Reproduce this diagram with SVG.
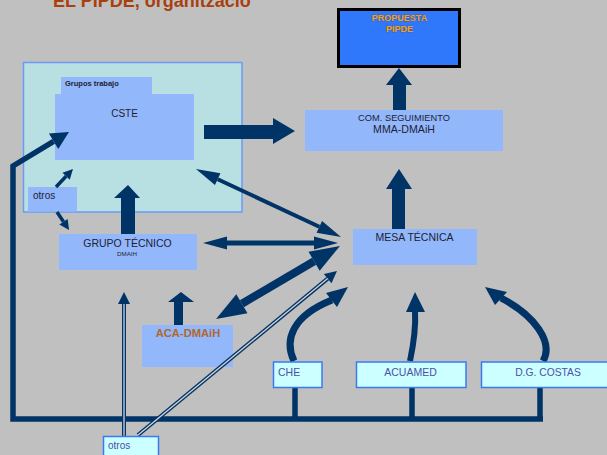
<svg xmlns="http://www.w3.org/2000/svg" width="607" height="455" viewBox="0 0 607 455">
<style>
.bg{fill:#c0c0c0}
.lb{fill:#93b7fb}
.bx{fill:#ccffff;stroke:#3a7af0;stroke-width:1.5}
.t{font-family:"Liberation Sans",Arial,sans-serif;fill:#1e2233}
.tb{font-family:"Liberation Sans",Arial,sans-serif;fill:#4d4fa8}
.ln{fill:none;stroke:#003366}
.dk{fill:#003366}
.dblo{fill:none;stroke:#003366;stroke-width:4}
.dbli{fill:none;stroke:#d4d4d4;stroke-width:1.3}
</style>
<defs>
<marker id="ma" markerUnits="userSpaceOnUse" markerWidth="24" markerHeight="13" refX="0" refY="6.5" orient="auto-start-reverse" overflow="visible"><path d="M0,0 L24,6.5 L0,13 z" fill="#003366"/></marker>
<marker id="mb" markerUnits="userSpaceOnUse" markerWidth="30" markerHeight="22" refX="0" refY="11" orient="auto-start-reverse" overflow="visible"><path d="M0,0 L30,11 L0,22 z" fill="#003366"/></marker>
<marker id="mc" markerUnits="userSpaceOnUse" markerWidth="10" markerHeight="10" refX="0" refY="5" orient="auto" overflow="visible"><path d="M0,0 L10,5 L0,10 z" fill="#003366"/></marker>
<marker id="md" markerUnits="userSpaceOnUse" markerWidth="12" markerHeight="12" refX="0" refY="6" orient="auto" overflow="visible"><path d="M0,0 L12,6 L0,12 z" fill="#003366"/></marker>
<marker id="me" markerUnits="userSpaceOnUse" markerWidth="18" markerHeight="18" refX="0" refY="9" orient="auto" overflow="visible"><path d="M0,0 L18,9 L0,18 z" fill="#003366"/></marker>
</defs>
<rect class="bg" x="0" y="0" width="607" height="455"/>
<text x="53" y="7" font-family="Liberation Sans,Arial,sans-serif" font-weight="bold" font-size="18" fill="#a8400e">EL PIPDE, organització</text>

<g id="propuesta">
<rect x="338.5" y="9.5" width="121" height="57" fill="#2f78fb" stroke="#000" stroke-width="3"/>
<text x="399.5" y="21" text-anchor="middle" font-family="Liberation Sans,Arial,sans-serif" font-weight="bold" font-size="9" fill="#f0a028" stroke="#6a4000" stroke-width="0.35" paint-order="stroke">PROPUESTA</text>
<text x="399.5" y="32" text-anchor="middle" font-family="Liberation Sans,Arial,sans-serif" font-weight="bold" font-size="9" fill="#f0a028" stroke="#6a4000" stroke-width="0.35" paint-order="stroke">PIPDE</text>
</g>

<g id="grupos">
<rect x="23.5" y="62.5" width="218.5" height="149.5" fill="#b8dfe2" stroke="#6b9af5" stroke-width="1.5"/>
</g>
<g id="grupos-trabajo">
<rect class="lb" x="61" y="77" width="91" height="18"/>
<text class="t" x="65" y="86" font-weight="bold" font-size="7.5" fill="#111">Grupos trabajo</text>
</g>
<g id="cste">
<rect class="lb" x="55" y="94" width="139" height="66"/>
<text class="t" x="124.5" y="117" text-anchor="middle" font-size="10">CSTE</text>
</g>
<g id="otros-int">
<rect class="lb" x="28" y="187" width="49" height="24.5"/>
<text class="t" x="33" y="199" font-size="10">otros</text>
</g>

<g id="com-seguimiento">
<rect class="lb" x="305" y="110" width="198" height="41"/>
<text class="t" x="404" y="121" text-anchor="middle" font-size="9.3">COM. SEGUIMIENTO</text>
<text class="t" x="404" y="133" text-anchor="middle" font-size="10.6">MMA-DMAiH</text>
</g>

<g id="grupo-tecnico">
<rect class="lb" x="59" y="234" width="138" height="36"/>
<text class="t" x="127.5" y="247" text-anchor="middle" font-size="10.5">GRUPO TÉCNICO</text>
<text class="t" x="127" y="255.5" text-anchor="middle" font-size="6.2">DMAIH</text>
</g>

<g id="mesa-tecnica">
<rect class="lb" x="353" y="229" width="124" height="36"/>
<text class="t" x="414.5" y="241" text-anchor="middle" font-size="10.5">MESA TÉCNICA</text>
</g>

<g id="aca">
<rect class="lb" x="142" y="325" width="91" height="42"/>
<text x="188" y="337" text-anchor="middle" font-family="Liberation Sans,Arial,sans-serif" font-weight="bold" font-size="11.2" fill="#b0682c">ACA-DMAiH</text>
</g>

<g id="connectors">
<path class="ln" d="M543,419 H13 V166 L53.6,141.3" stroke-width="5.5" marker-end="url(#me)"/>
<path class="ln" d="M295,387 V419 M412,387 V419 M540,387 V419" stroke-width="5.5"/>
<polygon class="dk" points="204,125 273,125 273,118 295,131 273,144 273,139 204,139"/>
<polygon class="dk" points="393,110 393,85 386,85 399,68 412,85 406,85 406,110"/>
<polygon class="dk" points="392,229 392,189 386,189 399,169 412,189 405,189 405,229"/>
<polygon class="dk" points="121,234 121,198 114,198 128,185 140,198 135,198 135,234"/>
<polygon class="dk" points="174,325 174,302 168,302 181,292 194,302 183,302 183,325"/>
<path class="ln" d="M217.7,179.2 L319.3,226.8" stroke-width="4" marker-start="url(#ma)" marker-end="url(#ma)"/>
<path class="ln" d="M227,243 H314" stroke-width="5" marker-start="url(#ma)" marker-end="url(#ma)"/>
<path class="ln" d="M241.9,303.8 L314.1,261.2" stroke-width="8" marker-start="url(#mb)" marker-end="url(#mb)"/>
<path class="ln" d="M56,187 L66.1,176.3" stroke-width="3.5" marker-end="url(#mc)"/>
<path class="ln" d="M57,212 L63.5,221.7" stroke-width="3.5" marker-end="url(#mc)"/>
<path class="dblo" d="M138,435 L327.7,278.6" marker-end="url(#md)"/>
<path class="dbli" d="M138,435 L327.7,278.6"/>
<path class="dblo" d="M124,437 V304" marker-end="url(#md)"/>
<path class="dbli" d="M124,437 V304"/>
<path class="ln" d="M294,361 C284,340 292,316 332,300" stroke-width="7"/>
<polygon class="dk" points="348,287 326,293 337,307"/>
<path class="ln" d="M410,361 C414,342 416,328 415,311" stroke-width="6"/>
<polygon class="dk" points="415,292 406,312 425,312"/>
<path class="ln" d="M543,361 C554,342 534,315 501,298" stroke-width="7"/>
<polygon class="dk" points="485,287 495,305 507,292"/>
</g>

<g id="che">
<rect class="bx" x="273.5" y="362" width="48.5" height="25.5"/>
<text class="tb" x="278" y="376" font-size="10.5">CHE</text>
</g>
<g id="acuamed">
<rect class="bx" x="356.5" y="362" width="109.5" height="25.5"/>
<text class="tb" x="410.5" y="376" text-anchor="middle" font-size="10.5">ACUAMED</text>
</g>
<g id="dg-costas">
<rect class="bx" x="481.5" y="362" width="128" height="25.5"/>
<text class="tb" x="548" y="376" text-anchor="middle" font-size="10.3">D.G. COSTAS</text>
</g>
<g id="otros-ext">
<rect class="bx" x="103.5" y="436.5" width="55" height="24"/>
<text class="tb" x="108" y="449" font-size="10">otros</text>
</g>
</svg>
